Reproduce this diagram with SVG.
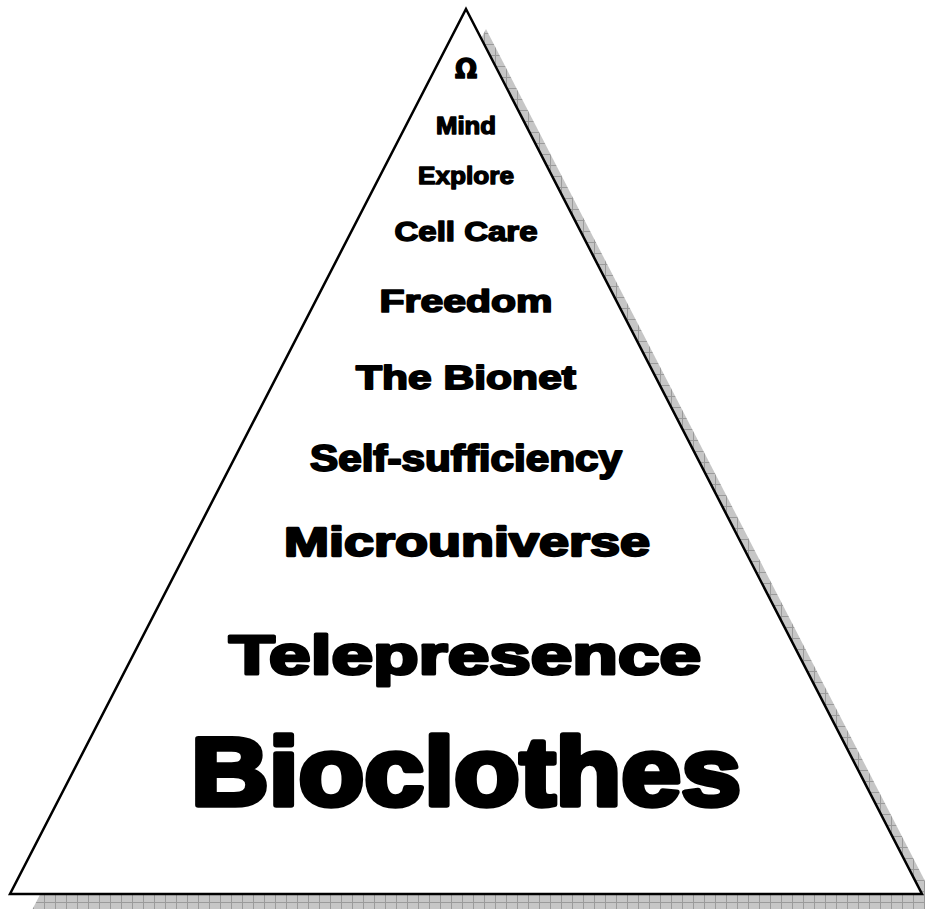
<svg xmlns="http://www.w3.org/2000/svg" width="925" height="909" viewBox="0 0 925 909">
<style>
.t{font-family:"Arial Black","Liberation Sans","Noto Sans",sans-serif;font-weight:bold;fill:#000;stroke:#000;stroke-linejoin:round;text-anchor:middle}
</style>
<defs>
<pattern id="grid" width="11" height="11" patternUnits="userSpaceOnUse">
<rect width="11" height="11" fill="#c6c6c6"/>
<path d="M0 0.5H11M0.5 0V11" stroke="#9a9a9a" stroke-width="1" fill="none"/>
</pattern>
</defs>
<rect width="925" height="909" fill="#fff"/>
<g id="shadow">
<polygon points="486,29 942,914 30,914" fill="url(#grid)"/>
</g>
<g id="pyramid">
<polygon points="466,9 922,894 10,894" fill="#fff" stroke="#000" stroke-width="2.5" stroke-linejoin="miter"/>
</g>
<g id="labels">
<g id="omega"><text class="t" x="466" y="78" font-size="26" stroke-width="1.4" style="font-family:'DejaVu Sans',sans-serif">Ω</text></g>
<g id="mind"><text class="t" x="466" y="134" font-size="23" stroke-width="1.3" textLength="60" lengthAdjust="spacingAndGlyphs">Mind</text></g>
<g id="explore"><text class="t" x="466" y="184" font-size="23" stroke-width="1.3" textLength="96" lengthAdjust="spacingAndGlyphs">Explore</text></g>
<g id="cellcare"><text class="t" x="466" y="241" font-size="27" stroke-width="1.5" textLength="143" lengthAdjust="spacingAndGlyphs">Cell Care</text></g>
<g id="freedom"><text class="t" x="466" y="312" font-size="31" stroke-width="1.7" textLength="173" lengthAdjust="spacingAndGlyphs">Freedom</text></g>
<g id="bionet"><text class="t" x="466" y="389" font-size="34" stroke-width="1.9" textLength="220" lengthAdjust="spacingAndGlyphs">The Bionet</text></g>
<g id="selfsufficiency"><text class="t" x="466" y="471" font-size="36" stroke-width="2" textLength="312" lengthAdjust="spacingAndGlyphs">Self-sufficiency</text></g>
<g id="microuniverse"><text class="t" x="467" y="556" font-size="41" stroke-width="2.3" textLength="366" lengthAdjust="spacingAndGlyphs">Microuniverse</text></g>
<g id="telepresence"><text class="t" x="465" y="674" font-size="56" stroke-width="3.2" textLength="472" lengthAdjust="spacingAndGlyphs">Telepresence</text></g>
<g id="bioclothes"><text class="t" x="466" y="805" font-size="96" stroke-width="5.5" textLength="550" lengthAdjust="spacingAndGlyphs">Bioclothes</text></g>
</g>
</svg>
